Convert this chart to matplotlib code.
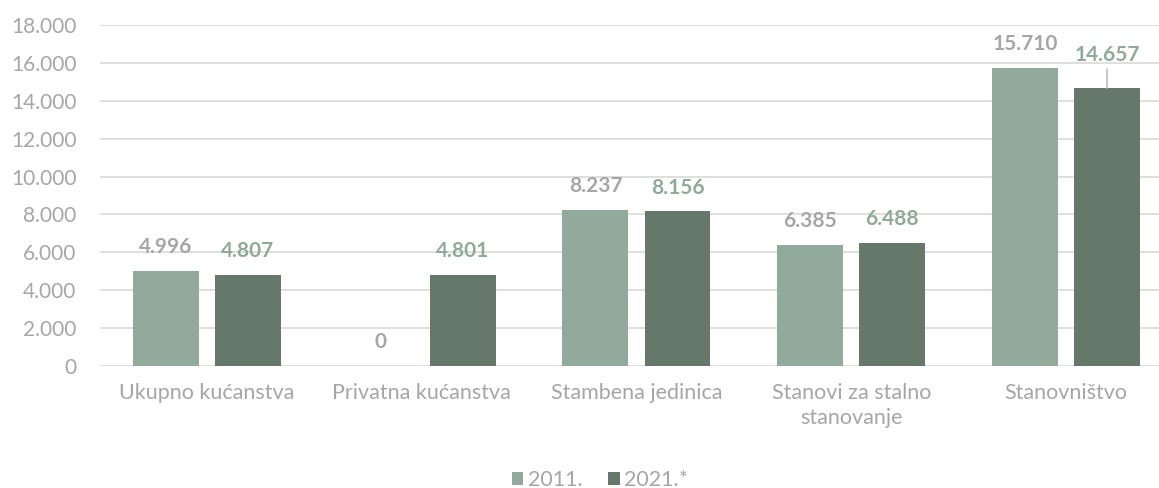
import matplotlib
matplotlib.use("Agg")
import matplotlib.pyplot as plt
import numpy as np
from matplotlib.ticker import FuncFormatter

categories = ["Ukupno kućanstva", "Privatna kućanstva", "Stambena jedinica",
              "Stanovi za stalno\nstanovanje", "Stanovništvo"]
series_names = ["2011.", "2021.*"]
values_2011 = [4996, 0, 8237, 6385, 15710]
values_2021 = [4807, 4801, 8156, 6488, 14657]
yticks = [0, 2000, 4000, 6000, 8000, 10000, 12000, 14000, 16000, 18000]

plt.rcParams['font.family'] = ['Lato', 'DejaVu Sans']

c2011 = "#92aa9c"
c2021 = "#66786a"
tick_col = "#a6a6a6"
lab2011 = "#a6a6a6"
lab2021 = "#8faa9a"

def fmt(v):
    return f"{int(v):,}".replace(",", ".")

fig = plt.figure(figsize=(11.59, 4.88), dpi=100)
ax = fig.add_axes([100/1159, 0.25, 1059/1159, 0.6988])

x = np.arange(len(categories))
w = 0.307
off = 0.191
b1 = ax.bar(x - off, values_2011, w, color=c2011, label=series_names[0], zorder=3)
b2 = ax.bar(x + off, values_2021, w, color=c2021, label=series_names[1], zorder=3)

ax.set_xlim(-0.498, 4.433)
ax.set_ylim(0, 18000)
ax.set_yticks(yticks)
ax.yaxis.set_major_formatter(FuncFormatter(lambda v, p: fmt(v)))
ax.grid(axis='y', color="#d9d9d9", linewidth=1.2, zorder=0)
for s in ax.spines.values():
    s.set_visible(False)
ax.tick_params(axis='both', length=0, colors=tick_col)
ax.tick_params(axis='y', pad=17, labelsize=15)
ax.set_xticks(x)
ax.set_xticklabels(categories, color=tick_col, fontsize=15.5, linespacing=1.35)
ax.tick_params(axis='x', pad=12)

for i, v in enumerate(values_2011):
    ax.annotate(fmt(v), (x[i] - off, v), xytext=(0, 10), textcoords='offset points',
                ha='center', va='bottom', fontsize=15, fontweight='bold', color=lab2011)
for i, v in enumerate(values_2021):
    if i == len(values_2021) - 1:
        ax.annotate(fmt(v), (x[i] + off, v), xytext=(0, 17), textcoords='offset points',
                    ha='center', va='bottom', fontsize=15, fontweight='bold', color=lab2021,
                    arrowprops=dict(arrowstyle='-', color='#bfbfbf', lw=1.2,
                                    shrinkA=1, shrinkB=0))
    else:
        ax.annotate(fmt(v), (x[i] + off, v), xytext=(0, 10), textcoords='offset points',
                    ha='center', va='bottom', fontsize=15, fontweight='bold', color=lab2021)

leg = fig.legend(handles=[b1, b2], labels=series_names, loc='center',
                 bbox_to_anchor=(600/1159, 1 - 480/488), ncol=2, frameon=False,
                 fontsize=15.5, handlelength=0.55, handleheight=0.55, handletextpad=0.2,
                 columnspacing=1.2, labelcolor=tick_col)

fig.savefig("out.png", dpi=100)
